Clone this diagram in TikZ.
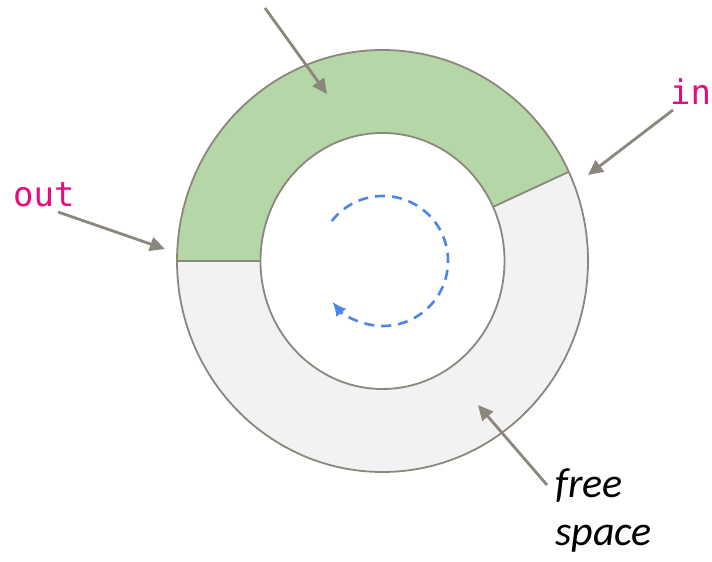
\documentclass[tikz,border=0pt]{standalone}
\usepackage{fontspec}
\usetikzlibrary{arrows.meta}
\newfontfamily\monofnt{DejaVu Sans Mono}
\newfontfamily\labelfnt{Carlito}
\definecolor{ringline}{RGB}{140,135,125}
\definecolor{arrowgray}{RGB}{140,135,125}
\definecolor{usedgreen}{RGB}{181,214,167}
\definecolor{freegray}{RGB}{242,242,242}
\definecolor{codepink}{RGB}{232,10,126}
\definecolor{loopblue}{RGB}{74,134,232}
\tikzset{
  ringedge/.style={draw=ringline, line width=1.8pt},
  pointer/.style={draw=arrowgray, line width=2.8pt, -{Triangle[length=15pt,width=14pt]}},
  codelabel/.style={font=\monofnt\fontsize{34}{40}\selectfont, text=codepink, inner sep=0pt, anchor=base west},
  textlabel/.style={font=\labelfnt\itshape\fontsize{42}{48}\selectfont, inner sep=0pt, align=left},
  loop/.style={draw=loopblue, line width=2.6pt, dash pattern=on 10pt off 7pt, -{Latex[length=14pt,width=13pt]}}
}
\begin{document}
\begin{tikzpicture}[x=1pt,y=1pt]
\useasboundingbox (0,0) rectangle (712,562);
% ring geometry
\def\cx{382.5}\def\cy{301}
\def\orx{205.5}\def\ory{211}
\def\irx{122}\def\iry{128}
% used (green) part
\fill[usedgreen] ({\cx+\orx*cos(25)},{\cy+\ory*sin(25)})
  arc[start angle=25, end angle=180, x radius=\orx, y radius=\ory]
  -- ({\cx-\irx},\cy)
  arc[start angle=180, end angle=25, x radius=\irx, y radius=\iry] -- cycle;
% free (gray) part
\fill[freegray] ({\cx+\orx*cos(25)},{\cy+\ory*sin(25)})
  arc[start angle=25, end angle=-180, x radius=\orx, y radius=\ory]
  -- ({\cx-\irx},\cy)
  arc[start angle=-180, end angle=25, x radius=\irx, y radius=\iry] -- cycle;
% outlines
\draw[ringedge] (\cx,\cy) ellipse[x radius=\orx, y radius=\ory];
\draw[ringedge] (\cx,\cy) ellipse[x radius=\irx, y radius=\iry];
\draw[ringedge] ({\cx-\irx},\cy) -- ({\cx-\orx},\cy);
\draw[ringedge] ({\cx+\irx*cos(25)},{\cy+\iry*sin(25)}) -- ({\cx+\orx*cos(25)},{\cy+\ory*sin(25)});
% circular dashed arrow
\draw[loop] ({383+65*cos(142)},{301+65*sin(142)}) arc[start angle=142, end angle=-141, radius=65];
% labels
\node[codelabel] (out) at (13,355) {out};
\node[codelabel] (in) at (670,457) {in};
\node[textlabel, anchor=north west] (free) at (555,93) {free\\space};
% pointer coordinates
\coordinate (topstart) at (265,554);
\coordinate (toptip) at (327,468);
\coordinate (outstart) at (58,350);
\coordinate (outtip) at (165,313);
\coordinate (instart) at (673,452);
\coordinate (intip) at (588,387);
\coordinate (freestart) at (547,77);
\coordinate (freetip) at (478,157);
\draw[pointer] (topstart) -- (toptip);
\draw[pointer] (outstart) -- (outtip);
\draw[pointer] (instart) -- (intip);
\draw[pointer] (freestart) -- (freetip);
\end{tikzpicture}
\end{document}
